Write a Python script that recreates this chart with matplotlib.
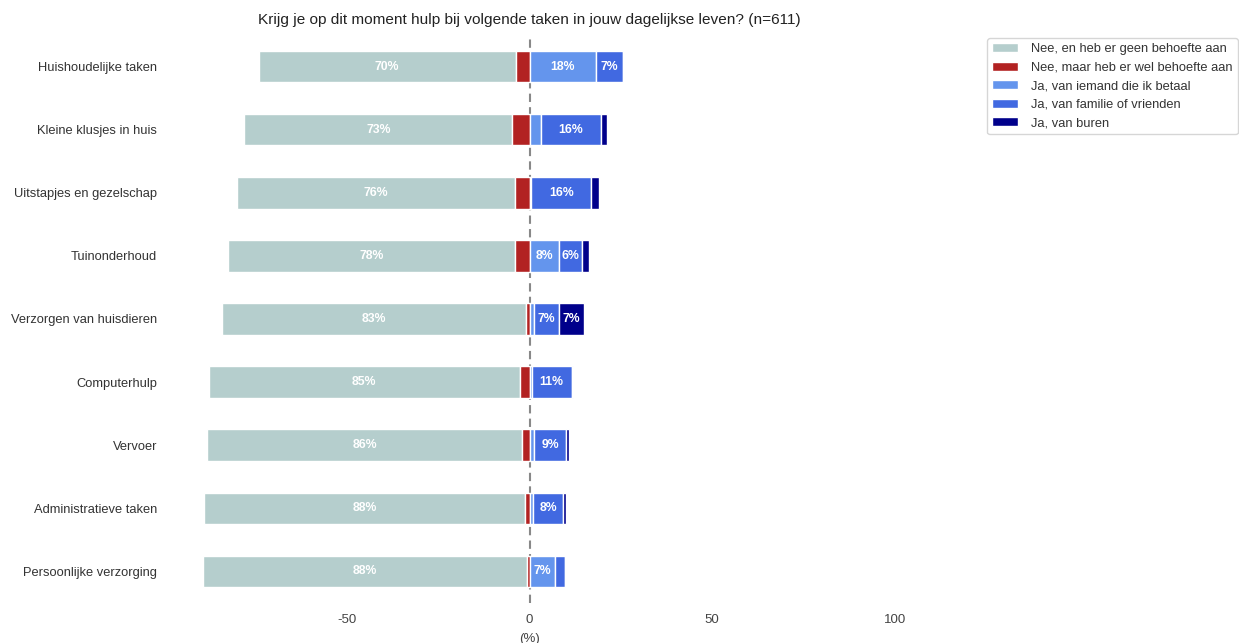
import matplotlib.pyplot as plt
import numpy as np

plt.rcParams['font.family'] = ['Liberation Sans', 'DejaVu Sans']
plt.rcParams['axes.unicode_minus'] = False

taken = ['Huishoudelijke taken', 'Kleine klusjes in huis', 'Uitstapjes en gezelschap',
         'Tuinonderhoud', 'Verzorgen van huisdieren', 'Computerhulp', 'Vervoer',
         'Administratieve taken', 'Persoonlijke verzorging']

# percentages per antwoord
nee_geen = [70.3, 73.3, 76.2, 78.4, 83.2, 85.1, 86.2, 87.9, 88.4]
nee_wel = [3.8, 4.7, 3.9, 4.1, 0.9, 2.7, 2.0, 1.2, 0.8]
ja_betaal = [18.2, 3.1, 0.5, 8.1, 1.1, 0.6, 1.2, 1.0, 7.1]
ja_familie = [7.4, 16.4, 16.4, 6.2, 6.9, 10.9, 8.9, 8.3, 2.5]
ja_buren = [0.0, 1.8, 2.0, 1.9, 7.0, 0.3, 0.6, 0.7, 0.0]

labels = ['Nee, en heb er geen behoefte aan', 'Nee, maar heb er wel behoefte aan',
          'Ja, van iemand die ik betaal', 'Ja, van familie of vrienden', 'Ja, van buren']
colors = ['#b5cecd', '#b22222', '#6495ed', '#4169e1', '#00008b']

fig = plt.figure(figsize=(12.39, 6.43), dpi=100)
ax = fig.add_axes([164 / 1239, 1 - 603 / 643, (895 - 164) / 1239, (603 - 35) / 643])

y = np.arange(len(taken))
h = 0.5

geen = np.array(nee_geen)
wel = np.array(nee_wel)
b1 = np.array(ja_betaal)
b2 = np.array(ja_familie)
b3 = np.array(ja_buren)

segments = [
    (-wel - geen, geen),
    (-wel, wel),
    (np.zeros(len(y)), b1),
    (b1, b2),
    (b1 + b2, b3),
]

for (left, width), lab, col in zip(segments, labels, colors):
    ax.barh(y, width, left=left, height=h, color=col, edgecolor='white',
            linewidth=1, label=lab, zorder=2)
    for yi, l, w in zip(y, left, width):
        if w >= 5:
            ax.text(l + w / 2, yi, f'{w:.0f}%', ha='center', va='center',
                    color='white', fontsize=8.8, fontweight='bold', zorder=3)

ax.axvline(0, color='#888888', linestyle=(0, (4, 2.5)), linewidth=1.5, zorder=1)

ax.set_ylim(len(taken) - 0.5, -0.5)
ax.set_xlim(-100, 100)
ax.set_xticks([-50, 0, 50, 100])
ax.set_yticks(y)
ax.set_yticklabels(taken)
ax.tick_params(axis='y', length=0, pad=5, labelsize=9.3, labelcolor='#333333')
ax.tick_params(axis='x', length=0, pad=8, labelsize=9.5, labelcolor='#444444')
ax.set_xlabel('(%)', fontsize=9.5, color='#444444', labelpad=5)
for s in ax.spines.values():
    s.set_visible(False)

ax.set_title('Krijg je op dit moment hulp bij volgende taken in jouw dagelijkse leven? (n=611)',
             fontsize=11.1, color='#222222', pad=8)

leg = fig.legend(loc='upper left', bbox_to_anchor=(987 / 1239, 1 - 38 / 643), fontsize=9.3,
                 frameon=True, edgecolor='#cccccc', handlelength=2.0, handletextpad=1.0,
                 borderaxespad=0)
for t in leg.get_texts():
    t.set_color('#333333')

fig.savefig('out.png', dpi=100)
